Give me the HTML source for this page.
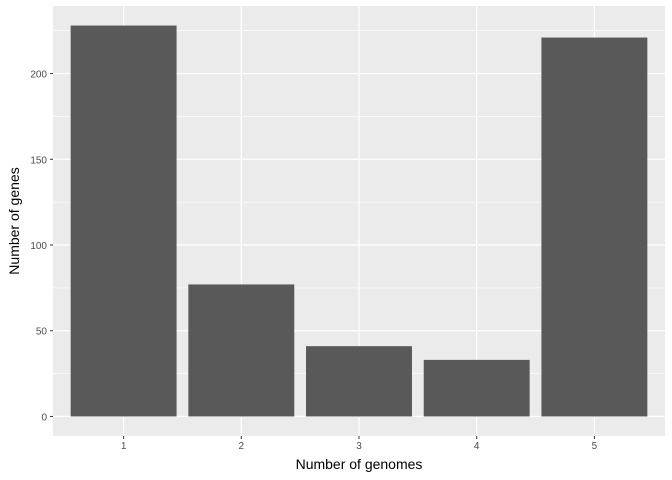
<!DOCTYPE html>
<html><head><meta charset="utf-8"><style>
body{margin:0;background:#fff;}
svg{display:block;font-family:"Liberation Sans",sans-serif;}
</style></head><body>
<svg id="chart" width="672" height="480"></svg>
<script>
const categories = ["1","2","3","4","5"];
const values = [228, 77, 41, 33, 221];
const yTicks = [0, 50, 100, 150, 200];
const yMinor = [25, 75, 125, 175, 225];

const ns = "http://www.w3.org/2000/svg";
const svg = document.getElementById("chart");
const L = 53, R = 665, T = 6, B = 436;
const yMax = 228 * 1.05, yMin = -228 * 0.05;
const y = v => B - (v - yMin) / (yMax - yMin) * (B - T);
const step = (R - L) / (categories.length + 0.2);
const x = i => L + step * (0.6 + i);
function mk(tag, attrs, parent) {
  const e = document.createElementNS(ns, tag);
  for (const k in attrs) e.setAttribute(k, attrs[k]);
  (parent || svg).appendChild(e);
  return e;
}
const panel = mk("rect", {x: L, y: T, width: R - L, height: B - T, fill: "#ebebeb"});


yMinor.forEach(v => {
  const l = mk("line", {x1: L, x2: R, y1: y(v), y2: y(v), stroke: "#fff", "stroke-width": 0.6});
  
  
});
yTicks.forEach(v => {
  const l = mk("line", {x1: L, x2: R, y1: y(v), y2: y(v), stroke: "#fff", "stroke-width": 1.2});
  
  
  const t = mk("line", {x1: L - 3, x2: L, y1: y(v), y2: y(v), stroke: "#333", "stroke-width": 1});
  
  
  const tx = mk("text", {x: L - 6, y: y(v) + 4, "text-anchor": "end", "font-size": 10, fill: "#4d4d4d"});
  tx.textContent = v;
  
  
});
categories.forEach((c, i) => {
  const cx = x(i);
  const g = mk("line", {x1: cx, x2: cx, y1: T, y2: B, stroke: "#fff", "stroke-width": 1.2});
  
  
  const w = step * 0.9;
  const b = mk("rect", {x: cx - w / 2, y: y(values[i]), width: w, height: y(0) - y(values[i]), fill: "#595959"});
  
  
  const t = mk("line", {x1: cx, x2: cx, y1: B, y2: B + 3, stroke: "#333", "stroke-width": 1});
  
  
  const tx = mk("text", {x: cx, y: B + 13, "text-anchor": "middle", "font-size": 10, fill: "#4d4d4d"});
  tx.textContent = c;
  
  
});
const xt = mk("text", {x: (L + R) / 2, y: 469, "text-anchor": "middle", "font-size": 14, fill: "#000"});
xt.textContent = "Number of genomes";


const yt = mk("text", {x: 0, y: 0, "text-anchor": "middle", "font-size": 14, fill: "#000", transform: "translate(19," + (T + B) / 2 + ") rotate(-90)"});
yt.textContent = "Number of genes";


</script>
</body></html>
